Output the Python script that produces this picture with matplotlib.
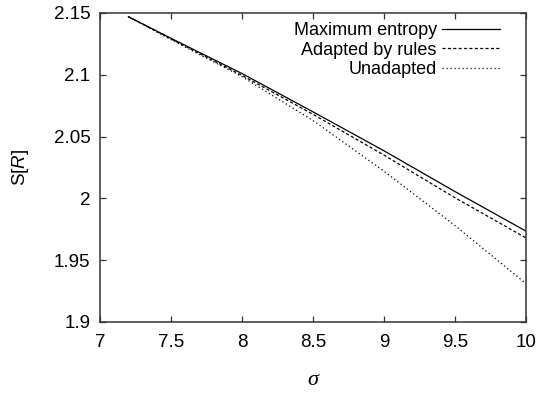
import numpy as np
import matplotlib
matplotlib.use('Agg')
import matplotlib.pyplot as plt

plt.rcParams['font.family'] = ['Liberation Sans', 'DejaVu Sans']
plt.rcParams['mathtext.fontset'] = 'custom'
plt.rcParams['mathtext.it'] = 'Liberation Sans:italic'
plt.rcParams['mathtext.rm'] = 'Liberation Sans'

# values
sigma = [7.2, 7.5, 8.0, 8.5, 9.0, 9.5, 10.0]
max_entropy = [2.147, 2.1295, 2.101, 2.070, 2.0385, 2.0055, 1.9735]
adapted = [2.147, 2.129, 2.0995, 2.068, 2.035, 2.0005, 1.968]
unadapted = [2.147, 2.1285, 2.0985, 2.063, 2.022, 1.978, 1.931]

xticks = [7, 7.5, 8, 8.5, 9, 9.5, 10]
xlabels = ['7', '7.5', '8', '8.5', '9', '9.5', '10']
yticks = [1.9, 1.95, 2.0, 2.05, 2.1, 2.15]
ylabels = ['1.9', '1.95', '2', '2.05', '2.1', '2.15']

fig = plt.figure(figsize=(5.37, 3.93), dpi=100)
ax = fig.add_axes([0.1862, 0.1807, 0.7933, 0.7863])

ax.plot(sigma, max_entropy, '-', color='black', lw=0.9, label='Maximum entropy')
ax.plot(sigma, adapted, color='black', lw=0.9, dashes=(2.5, 1.8), label='Adapted by rules')
ax.plot(sigma, unadapted, color='black', lw=0.9, dashes=(1, 2.2), label='Unadapted')

ax.set_xlim(7, 10)
ax.set_ylim(1.9, 2.15)
ax.set_xticks(xticks)
ax.set_xticklabels(xlabels)
ax.set_yticks(yticks)
ax.set_yticklabels(ylabels)
ax.tick_params(direction='in', length=4, width=0.9, colors='#333333',
               labelcolor='black', labelsize=13.5, top=True, right=True)
ax.tick_params(axis='x', pad=9)
ax.tick_params(axis='y', pad=7)
for sp in ax.spines.values():
    sp.set_color('#333333')
    sp.set_linewidth(1.1)

ax.set_xlabel('σ', fontsize=16, family='Liberation Serif', style='italic', labelpad=14)
ax.set_ylabel(r'S[$R$]', fontsize=13.5, labelpad=16)

ax.legend(loc='upper right', frameon=False, markerfirst=False, fontsize=13,
          handlelength=3.2, handletextpad=0.3, labelspacing=0.15,
          borderaxespad=0.1, bbox_to_anchor=(0.96, 1.0))

fig.savefig('out.png', dpi=100)
